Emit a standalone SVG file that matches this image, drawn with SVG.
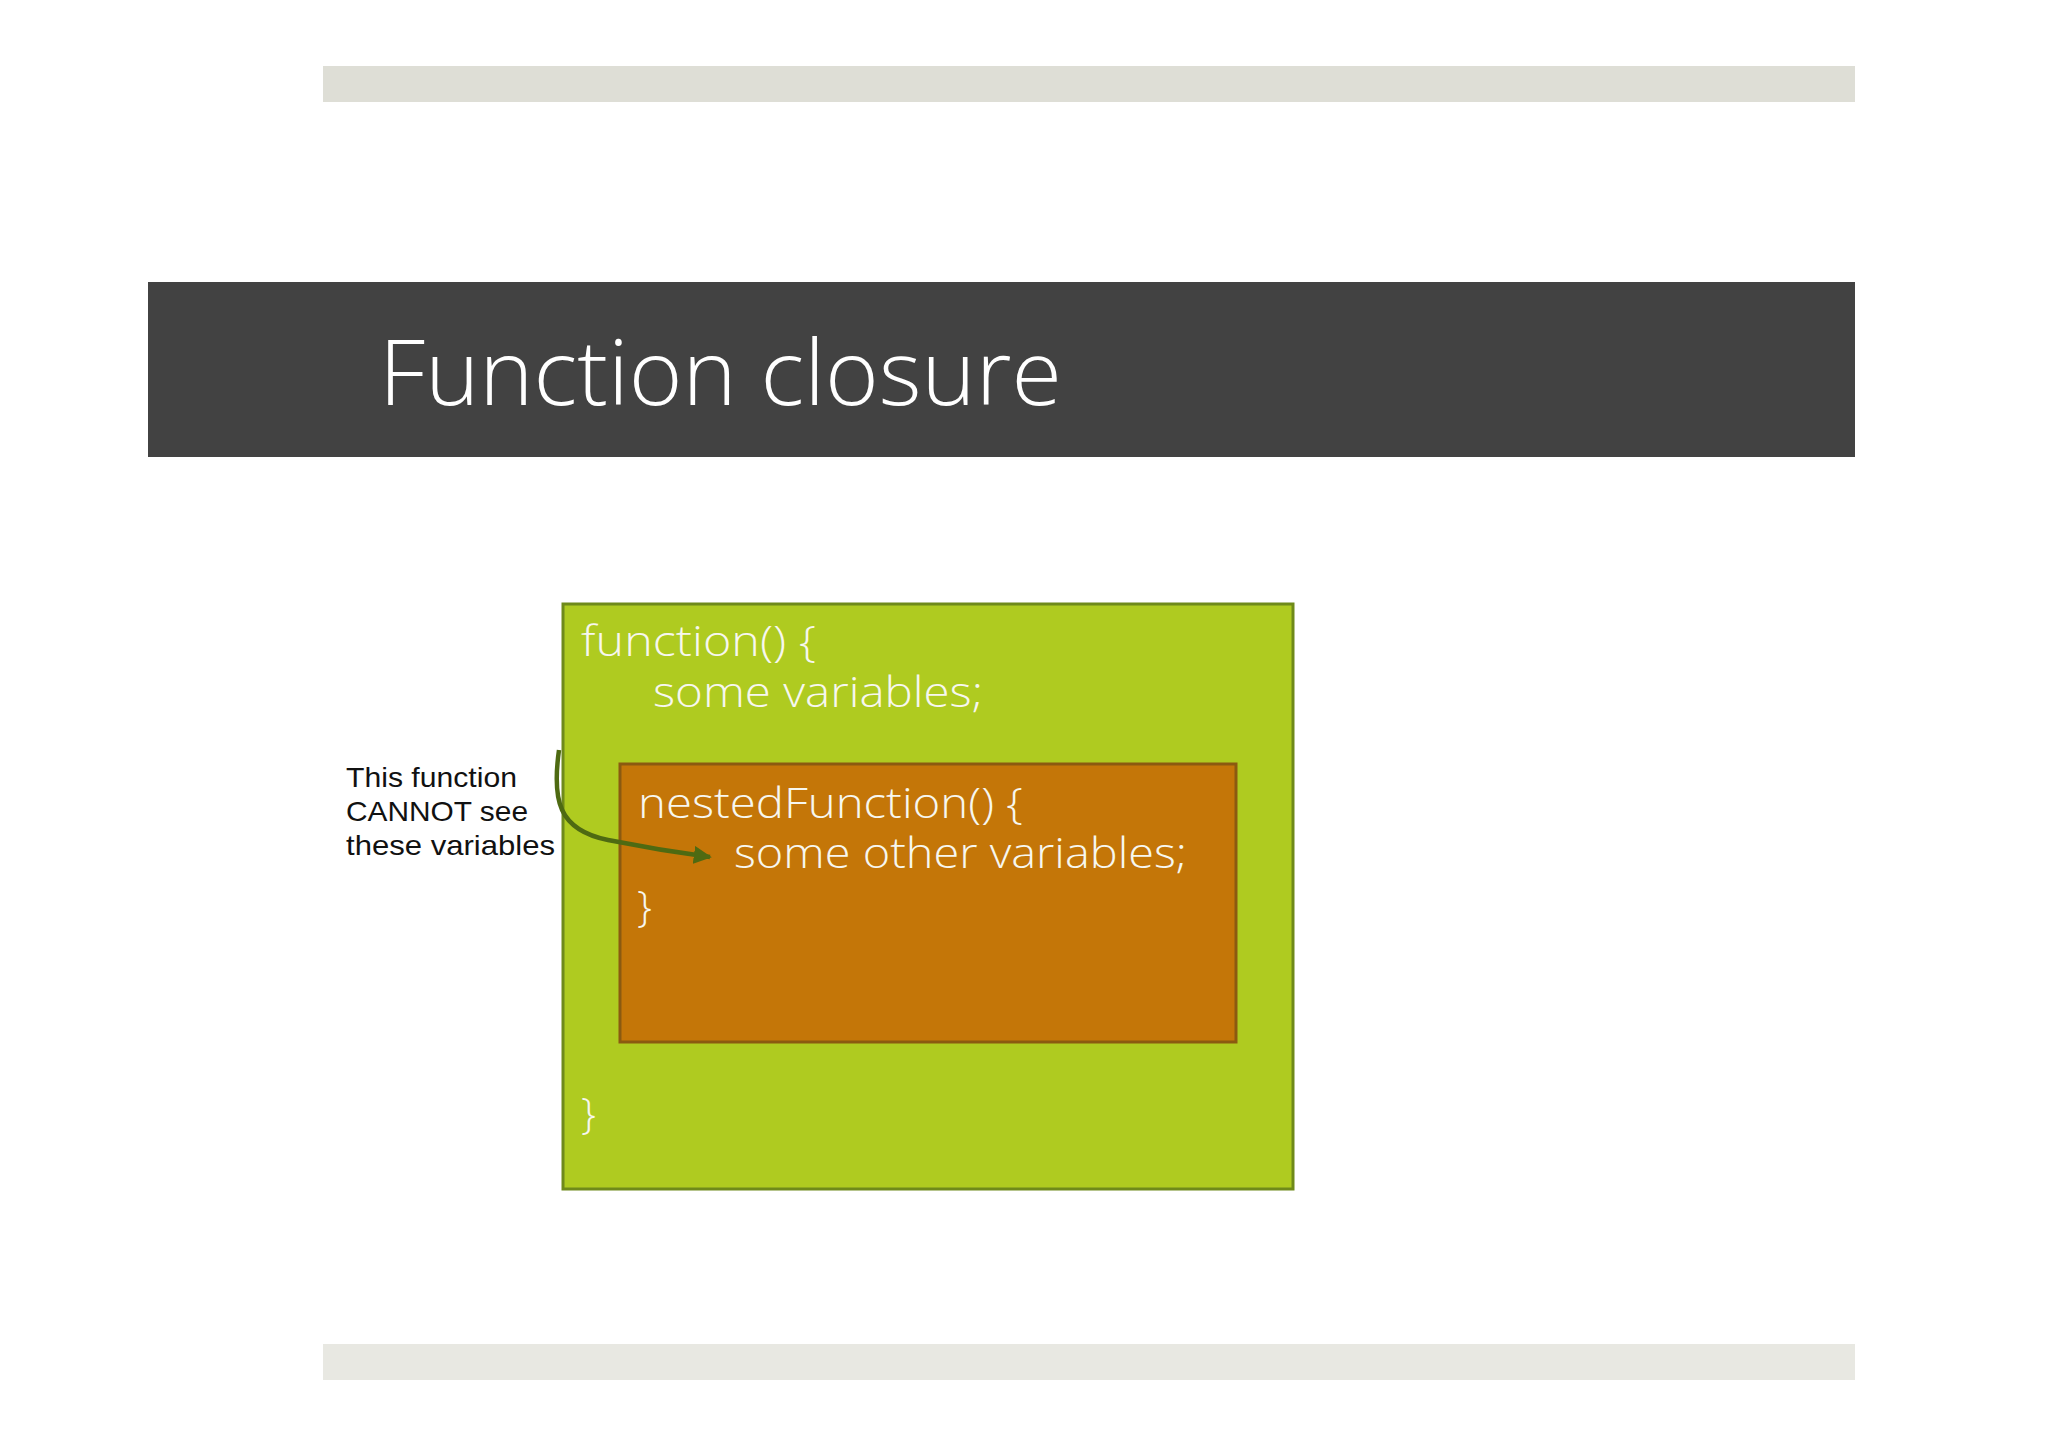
<svg xmlns="http://www.w3.org/2000/svg" width="2048" height="1447" viewBox="0 0 2048 1447">
  <defs>
    <style>
      .code { font-family: "Open Sans", "DejaVu Sans", sans-serif; font-size: 42px; fill: #F7F7EF; font-weight: 300; }
      .label { font-family: "Liberation Sans", Arial, sans-serif; font-size: 28px; fill: #111111; }
      .title { font-family: "Open Sans", "DejaVu Sans", sans-serif; font-size: 91px; fill: #FFFFFF; font-weight: 300; }
      .conn { fill: none; stroke: #4E6A12; stroke-width: 4.5; }
    </style>
    <marker id="arrow" viewBox="0 0 10 10" refX="9" refY="5" markerWidth="4" markerHeight="4" orient="auto" markerUnits="strokeWidth">
      <path d="M0,0 L10,5 L0,10 z" fill="#4E6A12"/>
    </marker>
  </defs>
  <rect x="0" y="0" width="2048" height="1447" fill="#FFFFFF"/>
  <g id="top-bar"><rect x="323" y="66" width="1532" height="36" fill="#DEDED6"/></g>
  <g id="header">
    <rect x="148" y="282" width="1707" height="175" fill="#424242"/>
    <text class="title" x="379" y="405" textLength="683" lengthAdjust="spacingAndGlyphs">Function closure</text>
  </g>
  <g id="outer-function">
    <rect x="563" y="604" width="730" height="585" fill="#AFCB20" stroke="#6F8A1A" stroke-width="3"/>
    <text class="code" x="581" y="656" textLength="235" lengthAdjust="spacingAndGlyphs">function() {</text>
    <text class="code" x="653" y="707" textLength="330" lengthAdjust="spacingAndGlyphs">some variables;</text>
    <text class="code" x="581" y="1128">}</text>
  </g>
  <g id="nested-function">
    <rect x="620" y="764" width="616" height="278" fill="#C47608" stroke="#8B5A10" stroke-width="3"/>
    <text class="code" x="638" y="818" textLength="385" lengthAdjust="spacingAndGlyphs">nestedFunction() {</text>
    <text class="code" x="734" y="868" textLength="453" lengthAdjust="spacingAndGlyphs">some other variables;</text>
    <text class="code" x="637" y="921">}</text>
  </g>
  <g id="label">
    <text class="label" x="346" y="787" textLength="171" lengthAdjust="spacingAndGlyphs">This function</text>
    <text class="label" x="346" y="821" textLength="182" lengthAdjust="spacingAndGlyphs">CANNOT see</text>
    <text class="label" x="346" y="855" textLength="209" lengthAdjust="spacingAndGlyphs">these variables</text>
  </g>
  <g id="connectors">
    <path class="conn" d="M 559 750 C 552 800, 558 830, 608 840 S 680 853, 710 857" marker-end="url(#arrow)"/>
  </g>
  <g id="bottom-bar"><rect x="323" y="1344" width="1532" height="36" fill="#E8E8E2"/></g>
</svg>
